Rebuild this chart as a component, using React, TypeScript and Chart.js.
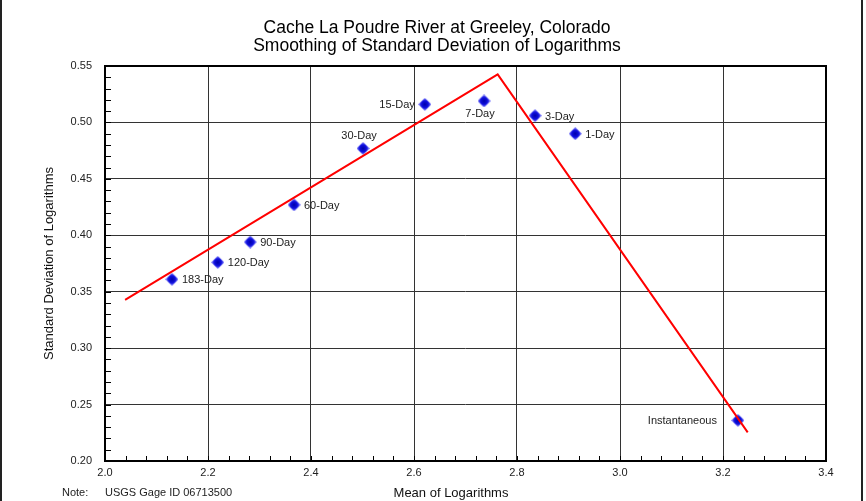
import React, { useEffect, useRef } from 'react';
import { Chart, registerables } from 'chart.js';

Chart.register(...registerables);

// ---- Data ----
const durations = ['183-Day', '120-Day', '90-Day', '60-Day', '30-Day', '15-Day', '7-Day', '3-Day', '1-Day', 'Instantaneous'];
const meanLog = [2.130, 2.219, 2.282, 2.367, 2.501, 2.621, 2.736, 2.835, 2.913, 3.229];
const stdLog = [0.361, 0.376, 0.394, 0.427, 0.477, 0.516, 0.519, 0.506, 0.490, 0.236];
const smoothX = [2.039, 2.7625, 3.248];
const smoothY = [0.3427, 0.5426, 0.2254];
const xRange = [2.0, 3.4];
const yRange = [0.2, 0.55];
const titleLines = ['Cache La Poudre River at Greeley, Colorado', 'Smoothing of Standard Deviation of Logarithms'];
const xTitle = 'Mean of Logarithms';
const yTitle = 'Standard Deviation of Logarithms';
const noteLabel = 'Note:';
const noteText = 'USGS Gage ID 06713500';

// label placement (style only)
const labelPlacement = ['right', 'right', 'right', 'right', 'above', 'left', 'below', 'right', 'right', 'leftFar'];

const FONT = '"Liberation Sans", Arial, sans-serif';

function makeDiamond(): HTMLCanvasElement {
  const s = 13;
  const c = document.createElement('canvas');
  c.width = s;
  c.height = s;
  const ctx = c.getContext('2d')!;
  const h = s / 2;
  const g = ctx.createRadialGradient(h, h, 0, h, h, h);
  g.addColorStop(0, '#0000a8');
  g.addColorStop(0.55, '#1010e0');
  g.addColorStop(1, '#8a8aff');
  ctx.beginPath();
  ctx.moveTo(h, 0);
  ctx.lineTo(s, h);
  ctx.lineTo(h, s);
  ctx.lineTo(0, h);
  ctx.closePath();
  ctx.fillStyle = g;
  ctx.fill();
  return c;
}

const decorPlugin = {
  id: 'decor',
  afterDatasetsDraw(chart: any) {
    const { ctx, chartArea, scales } = chart;
    const xs = scales.x;
    const ys = scales.y;
    ctx.save();
    // minor ticks
    ctx.strokeStyle = '#000';
    ctx.lineWidth = 1;
    ctx.beginPath();
    for (let i = 1; i < 35; i++) {
      const v = xRange[0] + i * 0.04;
      const px = Math.round(xs.getPixelForValue(v)) + 0.5;
      ctx.moveTo(px, chartArea.bottom);
      ctx.lineTo(px, chartArea.bottom - 5);
    }
    for (let i = 1; i < 35; i++) {
      const v = yRange[0] + i * 0.01;
      const py = Math.round(ys.getPixelForValue(v)) + 0.5;
      ctx.moveTo(chartArea.left, py);
      ctx.lineTo(chartArea.left + 6, py);
    }
    ctx.stroke();
    // border of plot
    ctx.lineWidth = 2;
    ctx.strokeStyle = '#000';
    ctx.strokeRect(chartArea.left, chartArea.top, chartArea.right - chartArea.left, chartArea.bottom - chartArea.top);

    // point labels
    ctx.font = '11px ' + FONT;
    ctx.fillStyle = '#222';
    durations.forEach((name, i) => {
      const px = xs.getPixelForValue(meanLog[i]);
      const py = ys.getPixelForValue(stdLog[i]);
      const p = labelPlacement[i];
      if (p === 'right') {
        ctx.textAlign = 'left';
        ctx.textBaseline = 'middle';
        ctx.fillText(name, px + 10, py + 1);
      } else if (p === 'left') {
        ctx.textAlign = 'right';
        ctx.textBaseline = 'middle';
        ctx.fillText(name, px - 10, py + 1);
      } else if (p === 'leftFar') {
        ctx.textAlign = 'right';
        ctx.textBaseline = 'middle';
        ctx.fillText(name, px - 21, py + 1);
      } else if (p === 'above') {
        ctx.textAlign = 'center';
        ctx.textBaseline = 'middle';
        ctx.fillText(name, px - 4, py - 12);
      } else {
        ctx.textAlign = 'center';
        ctx.textBaseline = 'middle';
        ctx.fillText(name, px - 4, py + 13);
      }
    });
    ctx.restore();
  },
  afterDraw(chart: any) {
    const { ctx, chartArea, height } = chart;
    ctx.save();
    // page frame
    ctx.strokeStyle = '#222';
    ctx.lineWidth = 2;
    ctx.beginPath();
    ctx.moveTo(1, 0);
    ctx.lineTo(1, height);
    ctx.moveTo(862, 0);
    ctx.lineTo(862, height);
    ctx.stroke();
    // title
    const cx = 437;
    ctx.fillStyle = '#000';
    ctx.textAlign = 'center';
    ctx.textBaseline = 'middle';
    ctx.font = '17.5px ' + FONT;
    ctx.fillText(titleLines[0], cx, 28);
    ctx.fillText(titleLines[1], cx, 46);
    // axis titles
    ctx.font = '13px ' + FONT;
    ctx.fillStyle = '#111';
    ctx.fillText(xTitle, 451, 493);
    ctx.save();
    ctx.translate(49, (chartArea.top + chartArea.bottom) / 2);
    ctx.rotate(-Math.PI / 2);
    ctx.fillText(yTitle, 0, 0);
    ctx.restore();
    // note
    ctx.font = '11px ' + FONT;
    ctx.textAlign = 'left';
    ctx.fillStyle = '#222';
    ctx.fillText(noteLabel, 62, 493);
    ctx.fillText(noteText, 105, 493);
    ctx.restore();
  },
};

export default function App() {
  const ref = useRef<HTMLCanvasElement | null>(null);
  useEffect(() => {
    if (!ref.current) return;
    const diamond = makeDiamond();
    const chart = new Chart(ref.current, {
      type: 'scatter',
      data: {
        datasets: [
          {
            type: 'line',
            label: 'Smoothed',
            data: smoothX.map((x, i) => ({ x, y: smoothY[i] })),
            borderColor: '#ff0000',
            borderWidth: 2,
            pointRadius: 0,
            fill: false,
            tension: 0,
            order: 0,
          } as any,
          {
            label: 'Observed',
            data: meanLog.map((x, i) => ({ x, y: stdLog[i] })),
            pointStyle: diamond as any,
            pointRadius: 6,
            order: 1,
          },
        ],
      },
      options: {
        animation: false,
        responsive: false,
        maintainAspectRatio: false,
        layout: { padding: { left: 0, top: 66, right: 40, bottom: 0 } },
        plugins: {
          legend: { display: false },
          title: { display: false },
          tooltip: { enabled: false },
        },
        scales: {
          x: {
            type: 'linear',
            min: xRange[0],
            max: xRange[1],
            afterFit: (s: any) => { s.height = 40; },
            ticks: {
              stepSize: 0.2,
              padding: 5,
              color: '#222',
              font: { family: FONT, size: 11 },
              callback: (v: any) => Number(v).toFixed(1),
            },
            grid: { color: '#333', lineWidth: 1, drawTicks: false },
            border: { display: false },
          },
          y: {
            type: 'linear',
            min: yRange[0],
            max: yRange[1],
            afterFit: (s: any) => { s.width = 105; },
            ticks: {
              stepSize: 0.05,
              padding: 13,
              color: '#222',
              font: { family: FONT, size: 11 },
              callback: (v: any) => Number(v).toFixed(2),
            },
            grid: { color: '#333', lineWidth: 1, drawTicks: false },
            border: { display: false },
          },
        },
      },
      plugins: [decorPlugin],
    });
    return () => chart.destroy();
  }, []);
  return (
    <div style={{ position: 'fixed', left: 0, top: 0, width: 866, height: 501, background: '#fff' }}>
      <canvas ref={ref} width={866} height={501} style={{ width: 866, height: 501, display: 'block' }} />
    </div>
  );
}
